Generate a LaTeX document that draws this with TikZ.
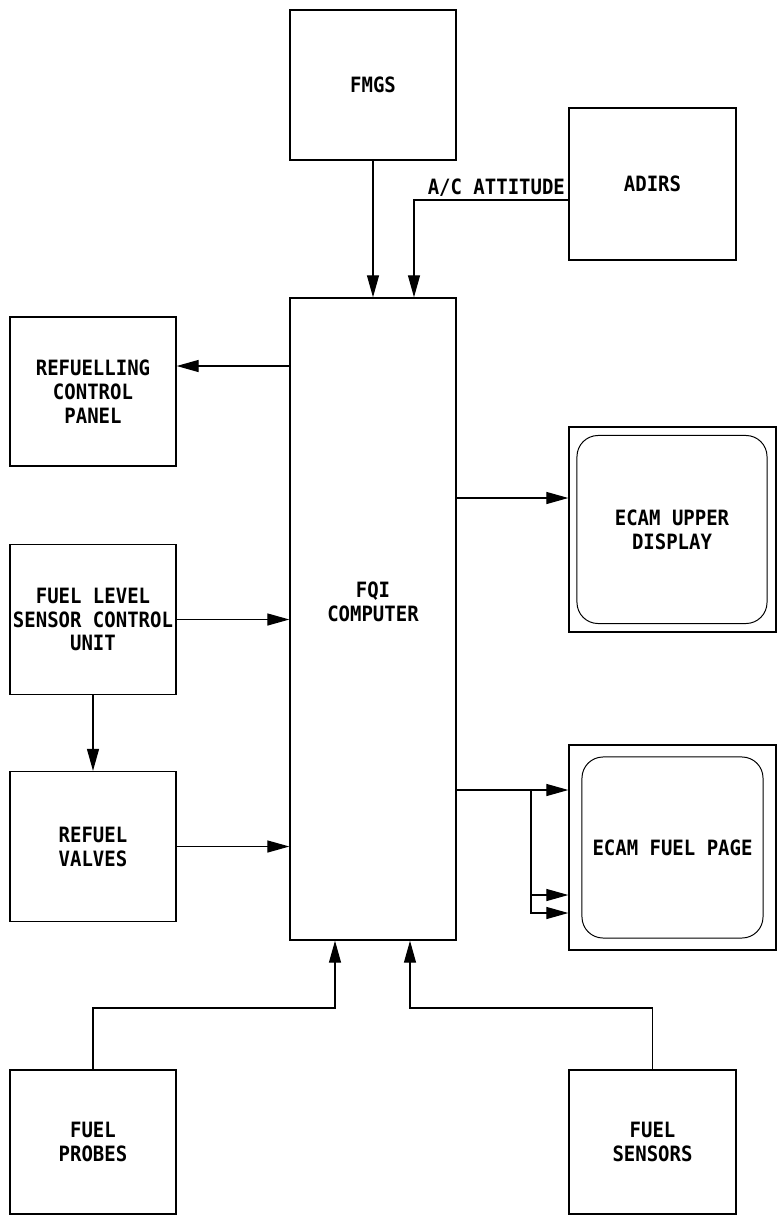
\documentclass[tikz,border=0pt]{standalone}
\usepackage{fontspec}
\setmonofont{DejaVu Sans Mono}[FakeStretch=0.9]
\usetikzlibrary{arrows.meta,positioning,calc}
\newcommand{\lblfont}{\ttfamily\bfseries\fontsize{15}{17}\selectfont}
\tikzset{blockbox/.style={draw,line width=0.9pt,minimum width=4.15cm,minimum height=3.75cm,
 align=center,font=\lblfont,inner sep=0pt},
 screenbox/.style={draw,line width=0.9pt,minimum width=5.175cm,minimum height=5.125cm,inner sep=0pt},
 screenface/.style={draw,line width=0.7pt,rounded corners=15pt,align=center,font=\lblfont,inner sep=0pt},
 sigarrow/.style={-{Triangle[length=5.5mm,width=3mm]},line width=0.9pt}}

\begin{document}
\begin{tikzpicture}[x=0.025cm,y=-0.025cm]
\useasboundingbox (0,0) rectangle (779,1223);
\node[blockbox] (fmgs) at (373,85) {FMGS};
\node[blockbox,minimum width=4.175cm,minimum height=3.8cm] (adirs) at (652.5,184) {ADIRS};
\node[blockbox,minimum height=16.05cm] (fqi) at (373,619) {};
\node[font=\lblfont,align=center] (fqitext) at (373,602) {FQI\\COMPUTER};
\node[blockbox,minimum height=3.725cm] (rcp) at (93,391.5) {REFUELLING\\CONTROL\\PANEL};
\node[blockbox] (flscu) at (93,619.5) {FUEL LEVEL\\SENSOR CONTROL\\UNIT};
\node[blockbox] (valves) at (93,846.5) {REFUEL\\VALVES};
\node[blockbox,minimum height=3.6cm] (probes) at (93,1142) {FUEL\\PROBES};
\node[blockbox,minimum width=4.175cm,minimum height=3.6cm] (sensors) at (652.5,1142) {FUEL\\SENSORS};
\node[screenbox] (ecamup) at (672.5,529.5) {};
\node[screenface,minimum width=4.75cm,minimum height=4.7cm] (ecamupface) at (672,529.5) {ECAM UPPER\\DISPLAY};
\node[screenbox] (ecamfuel) at (672.5,847.5) {};
\node[screenface,minimum width=4.525cm,minimum height=4.525cm] (ecamfuelface) at (672.5,847.5) {ECAM FUEL PAGE};
% inputs from above
\draw[sigarrow] (fmgs.south) -- (fqi.north -| fmgs.south);
\draw[sigarrow] (adirs.west |- 0,200) node[above left,font=\lblfont,inner sep=2pt] (att) {A/C ATTITUDE}
 -| (fqi.north -| 414,0);
% left side
\draw[sigarrow] (fqi.west |- 0,366) -- (rcp.east |- 0,366);
\draw[sigarrow] (flscu.east) -- (fqi.west |- flscu);
\draw[sigarrow] (flscu.south) -- (valves.north);
\draw[sigarrow] (valves.east) -- (fqi.west |- valves);
% right side
\draw[sigarrow] (fqi.east |- 0,498) -- (ecamup.west |- 0,498);
\coordinate (split) at (531,790);
\draw[sigarrow] (fqi.east |- split) -- (ecamfuel.west |- split);
\draw[sigarrow] (split) |- (ecamfuel.west |- 0,913);
\draw[sigarrow] (split |- 0,895) -- (ecamfuel.west |- 0,895);
% inputs from below
\draw[sigarrow] (probes.north) |- (335,1008) -- (fqi.south -| 335,0);
\draw[sigarrow] (sensors.north) |- (410,1008) -- (fqi.south -| 410,0);
\end{tikzpicture}
\end{document}
